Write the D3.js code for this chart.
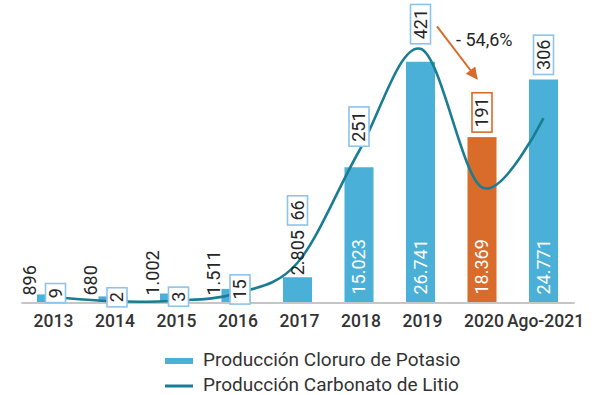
<!DOCTYPE html>
<html>
<head>
<meta charset="utf-8">
<script src="https://cdn.jsdelivr.net/npm/d3@7"></script>
<style>
  body { margin: 0; background: #fff; }
  svg { display: block; }
  text { font-family: Roboto, "Noto Sans", sans-serif; }
</style>
</head>
<body>
<svg id="chart" width="592" height="395"></svg>
<script>
// Annual production: potassium chloride (bars) and lithium carbonate (line)
const categories = ["2013", "2014", "2015", "2016", "2017", "2018", "2019", "2020", "Ago-2021"];
const potashValues = [896, 680, 1002, 1511, 2805, 15023, 26741, 18369, 24771];
const lithiumValues = [9, 2, 3, 15, 66, 251, 421, 191, 306];
const tickLabels = ["2013", "2014", "2015", "2016", "2017", "2018", "2019", "2020", "Ago-2021"];
const legendLabels = ["Producción Cloruro de Potasio", "Producción Carbonato de Litio"];
const highlightCategory = "2020";
const changeFrom = "2019";
const changeTo = "2020";

const colBar = "#4bb0d7";
const colHi = "#d96c2a";
const colLine = "#1b7d93";
const colBox = "#8cc4ea";
const colText = "#262626";

const svg = d3.select("#chart");
const baseY = 302.5;

const x = d3.scaleBand()
  .domain(categories)
  .range([20.75, 574.25])
  .paddingInner(0.528)
  .paddingOuter(0.264);
const cx = c => x(c) + x.bandwidth() / 2;
const yBar = d3.scaleLinear().domain([0, 33600]).range([baseY, 0]);
const yLine = d3.scaleLinear().domain([0, 502]).range([baseY, 0]);

const es = d3.formatLocale({ decimal: ",", thousands: ".", grouping: [3], currency: ["$", ""] });
const fmtInt = es.format(",d");
const fmtPct = es.format(".1f");

const rows = categories.map((c, i) => ({
  c, potash: potashValues[i], lithium: lithiumValues[i], tick: tickLabels[i]
}));

// Bars
svg.append("g").selectAll("rect").data(rows).join("rect")
  .attr("x", d => x(d.c))
  .attr("y", d => yBar(d.potash))
  .attr("width", x.bandwidth())
  .attr("height", d => baseY - yBar(d.potash))
  .attr("fill", d => d.c === highlightCategory ? colHi : colBar);

// Category axis
const axis = svg.append("g")
  .attr("transform", `translate(0,${baseY})`)
  .call(d3.axisBottom(x).tickSize(0).tickSizeOuter(0).tickPadding(12)
    .tickFormat((d, i) => tickLabels[i]));
axis.select(".domain").attr("stroke", "#c6c6c6").attr("stroke-width", 2);
axis.selectAll(".tick text")
  .attr("dx", 2)
  .attr("font-size", 17.5)
  .attr("font-weight", 500)
  .attr("fill", "#333")
  .style("font-family", "Roboto, sans-serif");

// Lithium line
const line = d3.line()
  .x(d => cx(d.c))
  .y(d => yLine(d.lithium))
  .curve(d3.curveCatmullRom.alpha(0));
svg.append("path")
  .datum(rows)
  .attr("d", line)
  .attr("fill", "none")
  .attr("stroke", colLine)
  .attr("stroke-width", 2.6);

// Bar value labels (rotated)
const labelSize = 18;
rows.forEach(d => {
  d.inside = baseY - yBar(d.potash) > 80;
  d.crowded = baseY - yLine(d.lithium) < 20;
});
const barLabels = svg.append("g");
rows.forEach(d => {
  let lx = cx(d.c), ly;
  if (d.inside) ly = baseY - 8;
  else if (d.crowded) { lx = cx(d.c) - 22; ly = baseY - 7; }
  else ly = yBar(d.potash) - 2;
  const t = barLabels.append("text")
    .attr("transform", `translate(${lx},${ly}) rotate(-90)`)
    .attr("dy", "0.36em")
    .attr("font-size", labelSize)
    .attr("fill", d.inside ? "#fff" : colText)
    .text(fmtInt(d.potash));
  d.barLabelTop = d.inside ? Infinity : ly - t.node().getComputedTextLength();
});

// Lithium value boxes
const boxes = svg.append("g");
rows.forEach(d => {
  const g = boxes.append("g");
  const t = g.append("text")
    .attr("font-size", labelSize)
    .attr("fill", colText)
    .attr("text-anchor", "middle")
    .attr("dy", "0.36em")
    .text(fmtInt(d.lithium));
  const len = t.node().getComputedTextLength();
  const bw = 20, bh = len + 9;
  const bx = cx(d.c) + (d.crowded ? 4 : 0);
  let by;
  if (d.crowded) by = yLine(d.lithium) - 4;
  else by = Math.min(yLine(d.lithium), yBar(d.potash), d.barLabelTop) - 5 - bh / 2;
  d.boxTop = by - bh / 2;
  d.boxX = bx;
  g.insert("rect", "text")
    .attr("x", bx - bw / 2).attr("y", by - bh / 2)
    .attr("width", bw).attr("height", bh)
    .attr("fill", "#fff")
    .attr("stroke", d.c === highlightCategory ? colHi : colBox)
    .attr("stroke-width", 1.6);
  t.attr("transform", `translate(${bx},${by}) rotate(-90)`);
});

// Change annotation between two years
const rFrom = rows.find(d => d.c === changeFrom);
const rTo = rows.find(d => d.c === changeTo);
const pct = (rTo.lithium - rFrom.lithium) / rFrom.lithium * 100;
const pctText = (pct < 0 ? "- " : "+ ") + fmtPct(Math.abs(pct)) + "%";

svg.append("defs").append("marker")
  .attr("id", "arrowHead")
  .attr("viewBox", "0 0 10 10")
  .attr("refX", 9).attr("refY", 5)
  .attr("markerUnits", "userSpaceOnUse")
  .attr("markerWidth", 13).attr("markerHeight", 12)
  .attr("orient", "auto")
  .append("path").attr("d", "M0,0 L10,5 L0,10 Z").attr("fill", colHi);

const ax0 = rFrom.boxX + 16.5, ay0 = rFrom.boxTop + 22;
const ax1 = rTo.boxX - 5, ay1 = rTo.boxTop - 14;
svg.append("line")
  .attr("x1", ax0).attr("y1", ay0)
  .attr("x2", ax1).attr("y2", ay1)
  .attr("stroke", colHi).attr("stroke-width", 2)
  .attr("marker-end", "url(#arrowHead)");
svg.append("text")
  .attr("x", ax0 + 19).attr("y", ay0 + 20)
  .attr("font-size", 18)
  .attr("fill", colText)
  .text(pctText);

// Legend
const legend = svg.append("g").attr("transform", "translate(165,0)");
legend.append("rect").attr("x", 0).attr("y", 358).attr("width", 28).attr("height", 6).attr("fill", colBar);
legend.append("line").attr("x1", 0).attr("x2", 28).attr("y1", 386).attr("y2", 386)
  .attr("stroke", colLine).attr("stroke-width", 3);
legend.selectAll("text.lg").data(legendLabels).join("text")
  .attr("class", "lg")
  .attr("x", 38)
  .attr("y", (d, i) => 366 + i * 25)
  .attr("font-size", 19)
  .attr("fill", "#333")
  .text(d => d);
</script>
</body>
</html>
